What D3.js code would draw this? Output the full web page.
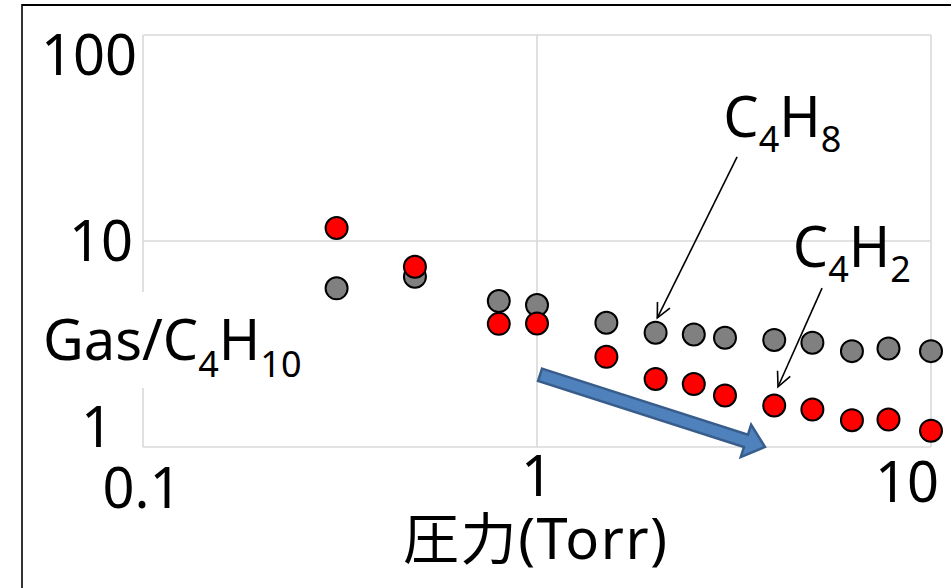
<!DOCTYPE html>
<html>
<head>
<meta charset="utf-8">
<script src="https://cdn.jsdelivr.net/npm/d3@7"></script>
<style>
  html, body { margin: 0; padding: 0; background: #fff; }
  svg { display: block; }
  text { font-family: "Noto Sans", "Noto Sans CJK JP", sans-serif; fill: #000; }
</style>
</head>
<body>
<svg id="chart" width="951" height="588"></svg>
<script>
// ---------- data ----------
const pressure = [0.31, 0.49, 0.8, 1.0, 1.5, 2.0, 2.5, 3.0, 4.0, 5.0, 6.3, 7.8, 10];
const c4h8 = [5.89, 6.71, 5.11, 4.89, 4.01, 3.59, 3.52, 3.39, 3.31, 3.21, 2.92, 3.01, 2.92];
const c4h2 = [11.56, 7.50, 3.96, 3.98, 2.74, 2.14, 2.02, 1.78, 1.59, 1.52, 1.35, 1.36, 1.20];
const xTicks = [0.1, 1, 10];
const xTickLabels = ["0.1", "1", "10"];
const yTicks = [1, 10, 100];
const yTickLabels = ["1", "10", "100"];
const xTitle = "圧力(Torr)";
// annotation anchors in data space: [x, y]
const c4h8Label = { pos: [2.97, 32.0], from: [3.22, 25.6], to: [2.02, 4.23] };
const c4h2Label = { pos: [4.46, 7.48], from: [5.29, 5.91], to: [4.09, 1.96] };
const trendArrow = { from: [1.018, 2.24], to: [3.79, 1.0] };

// ---------- layout ----------
const svg = d3.select("#chart");
const plot = { left: 143, right: 931, top: 35, bottom: 447 };

const x = d3.scaleLog().domain([0.1, 10]).range([plot.left, plot.right]);
const y = d3.scaleLog().domain([1, 100]).range([plot.bottom, plot.top]);

// outer frame
svg.append("line").attr("x1", 22).attr("x2", 22).attr("y1", 4).attr("y2", 588)
  .attr("stroke", "#000").attr("stroke-width", 1.6);
svg.append("line").attr("x1", 22).attr("x2", 951).attr("y1", 5).attr("y2", 5)
  .attr("stroke", "#000").attr("stroke-width", 2.2);

// gridlines
const gridColor = "#d9d9d9";
svg.append("g").selectAll("line").data(xTicks).join("line")
  .attr("x1", d => x(d)).attr("x2", d => x(d))
  .attr("y1", plot.top).attr("y2", plot.bottom)
  .attr("stroke", gridColor).attr("stroke-width", 1.6);
svg.append("g").selectAll("line").data(yTicks).join("line")
  .attr("x1", plot.left).attr("x2", plot.right)
  .attr("y1", d => y(d)).attr("y2", d => y(d))
  .attr("stroke", gridColor).attr("stroke-width", 1.6);

// tick labels (each label box was placed slightly differently in the original)
const fs = 56;
const yNudge = { 1: [-30, 0], 10: [-10, 20], 100: [-6, 40] };
svg.append("g").selectAll("text").data(yTicks).join("text")
  .attr("x", d => plot.left + yNudge[d][0])
  .attr("y", d => y(d) + yNudge[d][1])
  .attr("text-anchor", "end")
  .attr("font-size", fs)
  .text((d, i) => yTickLabels[i]);

const xNudge = { 0.1: [-1, 61], 1: [0, 49], 10: [-24, 55] };
svg.append("g").selectAll("text").data(xTicks).join("text")
  .attr("x", d => x(d) + xNudge[d][0])
  .attr("y", d => plot.bottom + xNudge[d][1])
  .attr("text-anchor", "middle")
  .attr("font-size", fs)
  .text((d, i) => xTickLabels[i]);

// x title
svg.append("text")
  .attr("x", 403).attr("y", 559)
  .attr("font-size", fs)
  .attr("textLength", 264)
  .attr("lengthAdjust", "spacing")
  .text(xTitle);

// y title with white box
svg.append("rect").attr("x", 23).attr("y", 292).attr("width", 282).attr("height", 96)
  .attr("fill", "#fff");
function formula(sel, parts) {
  parts.forEach(p => {
    sel.append("tspan")
      .attr("font-size", p.sub ? 36 : fs)
      .attr("dy", p.dy || 0)
      .text(p.t);
  });
}
const yTitle = svg.append("text").attr("x", 43).attr("y", 360);
formula(yTitle, [
  { t: "Gas/C" }, { t: "4", sub: true, dy: 17 }, { t: "H", dy: -17 }, { t: "10", sub: true, dy: 17 }
]);

// points
const r = 11;
svg.append("g").selectAll("circle").data(pressure).join("circle")
  .attr("cx", d => x(d)).attr("cy", (d, i) => y(c4h8[i])).attr("r", r)
  .attr("fill", "#808080").attr("stroke", "#000").attr("stroke-width", 2);
svg.append("g").selectAll("circle").data(pressure).join("circle")
  .attr("cx", d => x(d)).attr("cy", (d, i) => y(c4h2[i])).attr("r", r)
  .attr("fill", "#ff0000").attr("stroke", "#000").attr("stroke-width", 2);

// annotation labels + thin arrows
function annot(a, sub) {
  const t = svg.append("text").attr("x", x(a.pos[0])).attr("y", y(a.pos[1]));
  formula(t, [{ t: "C" }, { t: "4", sub: true, dy: 15 }, { t: "H", dy: -15 }, { t: sub, sub: true, dy: 15 }]);
  const x1 = x(a.from[0]), y1 = y(a.from[1]), x2 = x(a.to[0]), y2 = y(a.to[1]);
  svg.append("line").attr("x1", x1).attr("y1", y1).attr("x2", x2).attr("y2", y2)
    .attr("stroke", "#000").attr("stroke-width", 1.6);
  const ang = Math.atan2(y2 - y1, x2 - x1);
  const L = 16, spread = 0.45;
  const p = [
    [x2 - L * Math.cos(ang - spread), y2 - L * Math.sin(ang - spread)],
    [x2, y2],
    [x2 - L * Math.cos(ang + spread), y2 - L * Math.sin(ang + spread)]
  ];
  svg.append("path").attr("d", d3.line()(p)).attr("fill", "none")
    .attr("stroke", "#000").attr("stroke-width", 1.6);
}
annot(c4h8Label, "8");
annot(c4h2Label, "2");

// thick blue trend arrow
(function () {
  const x1 = x(trendArrow.from[0]), y1 = y(trendArrow.from[1]);
  const x2 = x(trendArrow.to[0]), y2 = y(trendArrow.to[1]);
  const len = Math.hypot(x2 - x1, y2 - y1);
  const sw = 6.5, hw = 17, hl = 20;
  const pts = [[0, -sw], [len - hl, -sw], [len - hl, -hw], [len, 0], [len - hl, hw], [len - hl, sw], [0, sw]];
  const ang = Math.atan2(y2 - y1, x2 - x1) * 180 / Math.PI;
  svg.append("path")
    .attr("d", d3.line()(pts) + "Z")
    .attr("transform", `translate(${x1},${y1}) rotate(${ang})`)
    .attr("fill", "#4f81bd").attr("stroke", "#385d8a").attr("stroke-width", 2.5)
    .attr("stroke-linejoin", "miter");
})();
</script>
</body>
</html>
